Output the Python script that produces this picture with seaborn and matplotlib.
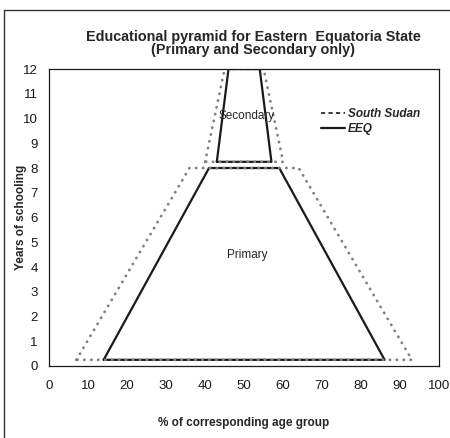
"""
Educational pyramid for Eastern Equatoria State (primary and secondary only).

Outline trapezoids: dotted grey for South Sudan, solid black for EEQ.
Output: out.png
"""

import matplotlib.pyplot as plt
import pandas as pd
import seaborn as sns
from matplotlib.lines import Line2D

# South Sudan outlines (x = % of age group, y = years of schooling)
ss_primary_x = [7, 36, 64, 93, 7]
ss_primary_y = [0.25, 8, 8, 0.25, 0.25]
ss_secondary_x = [40, 45, 55, 60, 40]
ss_secondary_y = [8.25, 12, 12, 8.25, 8.25]

# Eastern Equatoria State outlines
eeq_primary_x = [14, 41, 59, 86, 14]
eeq_primary_y = [0.25, 8, 8, 0.25, 0.25]
eeq_secondary_x = [43, 46, 54, 57, 43]
eeq_secondary_y = [8.25, 12, 12, 8.25, 8.25]

x_ticks = list(range(0, 101, 10))
y_ticks = list(range(0, 13))

FONT = ["Liberation Sans", "DejaVu Sans"]


def main() -> None:
    sns.set_style("white")
    plt.rcParams["font.family"] = FONT

    fig = plt.figure(figsize=(4.5, 4.38), dpi=100)
    ax = fig.add_axes([0.109, 0.1644, 0.867, 0.678])

    eeq = pd.concat([
        pd.DataFrame({"x": eeq_primary_x, "y": eeq_primary_y, "level": "Primary"}),
        pd.DataFrame({"x": eeq_secondary_x, "y": eeq_secondary_y, "level": "Secondary"}),
    ])
    ss = pd.concat([
        pd.DataFrame({"x": ss_primary_x, "y": ss_primary_y, "level": "Primary"}),
        pd.DataFrame({"x": ss_secondary_x, "y": ss_secondary_y, "level": "Secondary"}),
    ])

    for level, part in eeq.groupby("level"):
        sns.lineplot(data=part, x="x", y="y", sort=False, estimator=None,
                     color="#1a1a1a", linewidth=1.6, ax=ax)
    for level, part in ss.groupby("level"):
        sns.lineplot(data=part, x="x", y="y", sort=False, estimator=None,
                     color="#808080", linewidth=2.0, linestyle=(0, (0.1, 2.4)),
                     dash_capstyle="round", ax=ax)

    ax.text(50.5, 10.1, "Secondary", ha="center", va="center", fontsize=8.5)
    ax.text(50.8, 4.5, "Primary", ha="center", va="center", fontsize=8.5)

    ax.set_xlim(0, 100)
    ax.set_ylim(0, 12)
    ax.set_xticks(x_ticks)
    ax.set_yticks(y_ticks)
    ax.tick_params(axis="both", direction="out", length=3, width=0.8,
                   labelsize=9.5, colors="#1a1a1a")
    ax.tick_params(axis="x", pad=7)
    ax.tick_params(axis="y", pad=5)
    for s in ax.spines.values():
        s.set_color("#1a1a1a")
        s.set_linewidth(0.9)

    ax.set_xlabel("% of corresponding age group", fontsize=8.5, fontweight="bold",
                  labelpad=18)
    ax.set_ylabel("Years of schooling", fontsize=8.5, fontweight="bold",
                  labelpad=-2.5)
    ax.set_title("Educational pyramid for Eastern  Equatoria State\n"
                 "(Primary and Secondary only)", x=0.523,
                 fontsize=10.4, fontweight="bold", pad=11, linespacing=0.88)

    handles = [
        Line2D([], [], color="#1a1a1a", linewidth=1.2, linestyle=(0, (2.5, 2))),
        Line2D([], [], color="#1a1a1a", linewidth=1.6),
    ]
    ax.legend(handles, ["South Sudan", "EEQ"], loc="upper left",
              bbox_to_anchor=(0.685, 0.883), borderaxespad=0, frameon=False,
              handlelength=2.0, handletextpad=0.3, labelspacing=0.2,
              prop={"size": 8.5, "weight": "bold", "style": "italic",
                    "family": FONT})

    # outer chart frame (left and top edges only, the rest is cropped)
    fig.add_artist(Line2D([4 / 450, 4 / 450], [0, 1 - 10 / 438],
                          transform=fig.transFigure, color="#333333", lw=1.0))
    fig.add_artist(Line2D([4 / 450, 1], [1 - 10 / 438, 1 - 10 / 438],
                          transform=fig.transFigure, color="#333333", lw=1.0))

    fig.savefig("out.png", dpi=100)
    plt.close(fig)


if __name__ == "__main__":
    main()
